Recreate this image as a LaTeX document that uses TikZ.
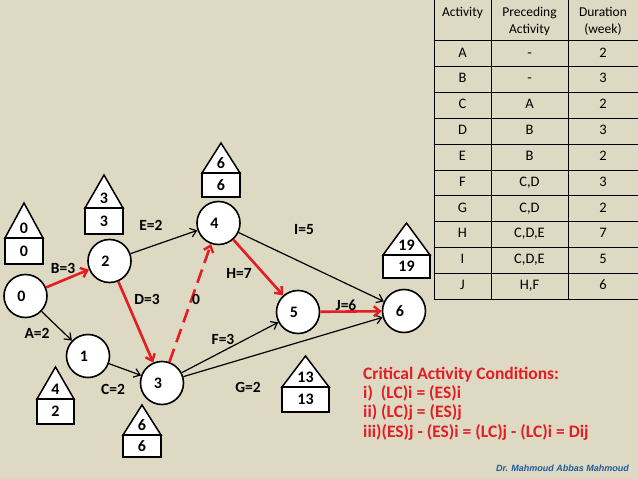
\documentclass[tikz,border=0pt]{standalone}
\usepackage{fontspec}
\setmainfont{Carlito}
\newfontfamily\footfont{Liberation Sans}
\usetikzlibrary{arrows.meta}
\definecolor{bgtan}{HTML}{DDD9C3}
\definecolor{critred}{RGB}{228,28,36}
\definecolor{authblue}{RGB}{30,90,160}
\tikzset{
  evnode/.style={circle,draw=black,line width=1.6pt,fill=white,minimum size=43pt,inner sep=0pt,font=\fontsize{16}{18}\selectfont\bfseries},
  houseline/.style={draw=black,line width=1.5pt,fill=white},
  numtxt/.style={inner sep=0pt,font=\fontsize{16}{18}\selectfont\bfseries},
  elabel/.style={inner sep=0pt,font=\fontsize{15.5}{18}\selectfont\bfseries},
  blkarrow/.style={draw=black,line width=1.2pt,-{Straight Barb[length=6pt,width=9pt,line width=1.2pt]}},
  redarrow/.style={draw=critred,line width=2.6pt,-{Straight Barb[length=6pt,width=10pt,line width=2.4pt]}},
  reddash/.style={redarrow,dash pattern=on 14pt off 7pt},
  tabline/.style={draw=black,line width=0.9pt},
  tabtxt/.style={inner sep=0pt,text height=10pt,text depth=3pt,font=\fontsize{14.5}{17}\selectfont},
  tabhead/.style={inner sep=0pt,align=center,font=\fontsize{13.5}{17}\selectfont},
  crittxt/.style={inner sep=0pt,anchor=west,text=critred,font=\fontsize{17.5}{19}\selectfont\bfseries},
}
\newcommand\housebox[8]{%
  \draw[houseline] (#2,#5) -- ({(#2+#3)/2},#4) -- (#3,#5) -- cycle;
  \draw[houseline] (#2,#5) rectangle (#3,#6);
  \node[numtxt] (#1t) at ({(#2+#3)/2},{#5-10}) {#7};
  \node[numtxt] (#1b) at ({(#2+#3)/2},{(#5+#6)/2}) {#8};
}
\begin{document}
\begin{tikzpicture}[x=1pt,y=-1pt]
\useasboundingbox (0,0) rectangle (638,479);
\fill[bgtan] (0,0) rectangle (638,479);

% table
\foreach \xx in {434,491,568} \draw[tabline] (\xx,0) -- (\xx,299);
\foreach \yy in {40.7,66.7,92.7,118.3,144,170,195.7,221.7,247.3,273.3,299} \draw[tabline] (434,\yy) -- (638,\yy);
\node[tabhead] (h1) at (462.5,13) {Activity};
\node[tabhead] (h2) at (529.5,21) {Preceding\\Activity};
\node[tabhead] (h3) at (603,21) {Duration\\(week)};
\foreach \act/\pre/\dur [count=\i] in {A/-/2,B/-/3,C/A/2,D/B/3,E/B/2,F/{C,D}/3,G/{C,D}/2,H/{C,D,E}/7,I/{C,D,E}/5,J/{H,F}/6}{
  \pgfmathsetmacro\ry{40.7+25.83*(\i-0.5)}
  \node[tabtxt] (ta\i) at (462.5,\ry) {\act};
  \node[tabtxt] (tp\i) at (529.5,\ry) {\pre};
  \node[tabtxt] (td\i) at (603,\ry) {\dur};
}

% event nodes
\node[evnode] (n0) at (25.5,296) {\hspace{-8pt}0};
\node[evnode] (n1) at (88,356) {\hspace{-8pt}1};
\node[evnode] (n2) at (109.5,261) {\hspace{-8pt}2};
\node[evnode] (n3) at (162,383) {\hspace{-8pt}3};
\node[evnode] (n4) at (218.5,223) {\hspace{-8pt}4};
\node[evnode] (n5) at (298,312) {\hspace{-8pt}5};
\node[evnode] (n6) at (404,311) {\hspace{-8pt}6};

% houses
\housebox{hz}{5}{43}{203}{238}{264}{0}{0}
\housebox{htwo}{85}{123}{175}{208}{234}{3}{3}
\housebox{hone}{37}{74}{367}{399}{424}{4}{2}
\housebox{hthree}{123}{161}{405}{435}{457}{6}{6}
\housebox{hfour}{202}{240}{143}{173}{197}{6}{6}
\housebox{hsix}{383}{430}{223}{255}{278}{19}{19}
\housebox{hfive}{282}{329}{356}{387}{412}{13}{13}

% connectors
\draw[blkarrow] (n0) -- (n1);
\draw[blkarrow] (n1) -- (n3);
\draw[blkarrow] (n2) -- (n4);
\draw[blkarrow] (n4) -- (n6);
\draw[blkarrow] (n3) -- (n5);
\draw[blkarrow] (n3) -- (n6);
\draw[redarrow] (n0) -- (n2);
\draw[redarrow] (n2) -- (n3);
\draw[reddash] (n3) -- (n4);
\draw[redarrow] (n4) -- (n5);
\draw[redarrow] (n5) -- (n6);

% edge labels
\node[elabel] (lA) at (37,333) {A=2};
\node[elabel] (lB) at (63,268) {B=3};
\node[elabel] (lC) at (113,389) {C=2};
\node[elabel] (lD) at (147,299) {D=3};
\node[elabel] (lE) at (151,225) {E=2};
\node[elabel] (lZ) at (196,299) {0};
\node[elabel] (lH) at (239,273) {H=7};
\node[elabel] (lI) at (304,230) {I=5};
\node[elabel] (lJ) at (346,305) {J=6};
\node[elabel] (lF) at (223,339) {F=3};
\node[elabel] (lG) at (248,387) {G=2};

% critical conditions
\node[crittxt] (c1) at (363,375) {Critical Activity Conditions:};
\node[crittxt] (c2) at (363,393) {i)\ \ (LC)i = (ES)i};
\node[crittxt] (c3) at (363,412) {ii) (LC)j = (ES)j};
\node[crittxt] (c4) at (363,432) {iii)(ES)j - (ES)i = (LC)j - (LC)i = Dij};

\node[inner sep=0pt,text=authblue,font=\footfont\fontsize{9}{10}\selectfont\bfseries\itshape] (auth) at (562.5,468) {Dr. Mahmoud Abbas Mahmoud};
\end{tikzpicture}
\end{document}
